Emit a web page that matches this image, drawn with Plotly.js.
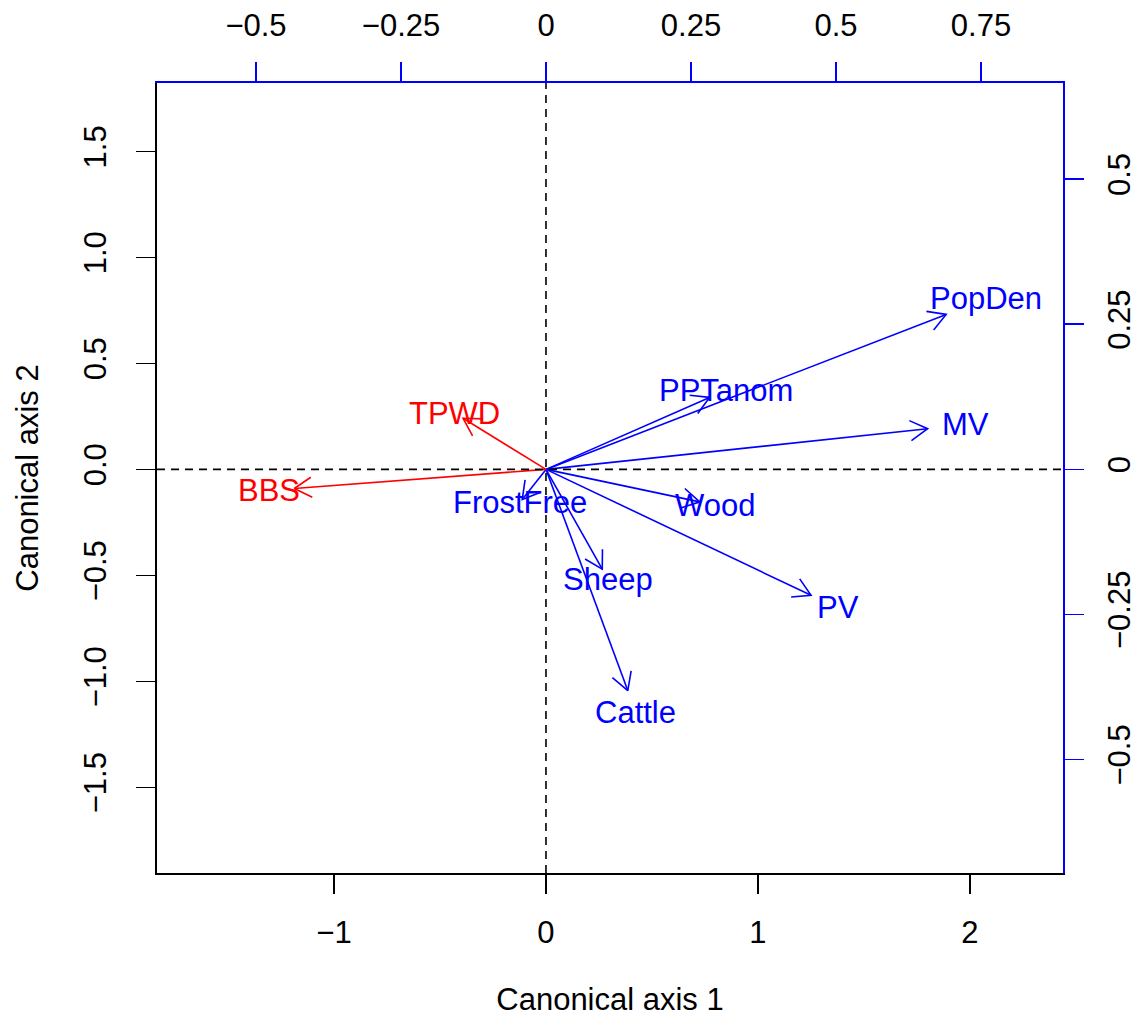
<!DOCTYPE html>
<html>
<head>
<meta charset="utf-8">
<script src="https://cdn.plot.ly/plotly-3.0.1.min.js"></script>
<style>
  html, body { margin: 0; padding: 0; background: #ffffff; }
  #plot { width: 1143px; height: 1026px; }
</style>
</head>
<body>
<div id="plot"></div>
<script>
// Environmental (X) variables: structure correlations on canonical axes 1 and 2
const xVars  = ['PopDen', 'MV', 'PPTanom', 'Wood', 'PV', 'Sheep', 'Cattle', 'FrostFree'];
const xAxis1 = [0.690, 0.658, 0.282, 0.265, 0.457, 0.097, 0.141, -0.041];
const xAxis2 = [0.267, 0.070, 0.124, -0.056, -0.217, -0.172, -0.381, -0.052];

// Response (Y) variables
const yVars  = ['BBS', 'TPWD'];
const yAxis1 = [-0.434, -0.143];
const yAxis2 = [-0.033, 0.088];

// Axis ranges (score scale on bottom/left, loading scale on top/right)
const scoreRangeX = [-1.835, 2.439];
const scoreRangeY = [-1.904, 1.823];
const loadRangeX  = [-0.6707, 0.8914];
const loadRangeY  = [-0.6954, 0.6657];

const scoreTicksX = [-1, 0, 1, 2];
const scoreTicksY = [-1.5, -1.0, -0.5, 0.0, 0.5, 1.0, 1.5];
const loadTicksX  = [-0.5, -0.25, 0, 0.25, 0.5, 0.75];
const loadTicksY  = [-0.5, -0.25, 0, 0.25, 0.5];

const BLUE = '#0000ff';
const RED  = '#ff0000';
const FONT = 'Liberation Sans, Arial, Helvetica, sans-serif';
const FS = 31;

const W = 1143, H = 1026;
const M = { l: 157, r: 80, t: 83, b: 153 };
const plotW = W - M.l - M.r;
const plotH = H - M.t - M.b;
const pxPerX = plotW / (loadRangeX[1] - loadRangeX[0]);
const pxPerY = plotH / (loadRangeY[1] - loadRangeY[0]);

const fmtMinus = v => (v < 0 ? '\u2212' : '') + Math.abs(v);
const fmtFixed = v => (v < 0 ? '\u2212' : '') + Math.abs(v).toFixed(1);

// Open V-shaped head, 30 degrees, fixed length in pixels
const HEAD = 20, ANG = Math.PI / 6;
function arrowTrace(x, y, color) {
  const th = Math.atan2(y * pxPerY, x * pxPerX);
  const arm = s => [x - HEAD * Math.cos(th + s * ANG) / pxPerX,
                    y - HEAD * Math.sin(th + s * ANG) / pxPerY];
  const a = arm(1), b = arm(-1);
  return {
    type: 'scatter', mode: 'lines', xaxis: 'x2', yaxis: 'y2',
    x: [0, x, null, a[0], x, b[0]],
    y: [0, y, null, a[1], y, b[1]],
    line: { color: color, width: 1.6 },
    hoverinfo: 'skip', showlegend: false
  };
}

const traces = [];
xVars.forEach((v, i) => traces.push(arrowTrace(xAxis1[i], xAxis2[i], BLUE)));
yVars.forEach((v, i) => traces.push(arrowTrace(yAxis1[i], yAxis2[i], RED)));
// anchor trace for the primary axes
traces.push({ type: 'scatter', mode: 'markers', x: [0], y: [0], marker: { opacity: 0 },
  hoverinfo: 'skip', showlegend: false });

// Variable names just beyond the arrow tips
const labelAnn = (names, a1, a2, color) => names.map((n, i) => ({
  xref: 'x2', yref: 'y2', x: a1[i] * 1.1, y: a2[i] * 1.1, text: n,
  showarrow: false, xanchor: 'center', yanchor: 'middle',
  font: { family: FONT, size: FS, color: color }
}));

const tickFont = { family: FONT, size: FS, color: '#000000' };
const baseAxis = {
  showgrid: false, zeroline: false, showline: true, linewidth: 1.6,
  ticks: 'outside', ticklen: 19, tickwidth: 1.6, tickfont: tickFont,
  tickmode: 'array', fixedrange: true
};

const layout = {
  width: W, height: H,
  margin: M,
  paper_bgcolor: '#ffffff', plot_bgcolor: '#ffffff',
  font: { family: FONT, size: FS, color: '#000000' },
  showlegend: false,
  xaxis: Object.assign({}, baseAxis, {
    range: scoreRangeX, tickvals: scoreTicksX, ticktext: scoreTicksX.map(fmtMinus),
    linecolor: '#000000', tickcolor: '#000000', side: 'bottom',
    ticklabelstandoff: 12,
    title: { text: 'Canonical axis 1', font: { family: FONT, size: FS }, standoff: 39 }
  }),
  yaxis: Object.assign({}, baseAxis, {
    range: scoreRangeY, tickvals: scoreTicksY, ticktext: scoreTicksY.map(fmtFixed),
    linecolor: '#000000', tickcolor: '#000000', side: 'left', tickangle: -90,
    ticklabelstandoff: 18,
    title: { text: 'Canonical axis 2', font: { family: FONT, size: FS }, standoff: 30 }
  }),
  xaxis2: Object.assign({}, baseAxis, {
    overlaying: 'x', side: 'top', anchor: 'y2',
    range: loadRangeX, tickvals: loadTicksX, ticktext: loadTicksX.map(fmtMinus),
    linecolor: BLUE, tickcolor: BLUE, ticklabelstandoff: 14
  }),
  yaxis2: Object.assign({}, baseAxis, {
    overlaying: 'y', side: 'right', anchor: 'x2',
    range: loadRangeY, tickvals: loadTicksY, ticktext: loadTicksY.map(fmtMinus),
    linecolor: BLUE, tickcolor: BLUE, tickangle: -90, ticklabelstandoff: 9
  }),
  annotations: labelAnn(xVars, xAxis1, xAxis2, BLUE).concat(labelAnn(yVars, yAxis1, yAxis2, RED)),
  shapes: [
    { type: 'line', xref: 'x', yref: 'paper', x0: 0, x1: 0, y0: 0, y1: 1,
      line: { color: '#000000', width: 1.6, dash: '8px,6px' } },
    { type: 'line', xref: 'paper', yref: 'y', x0: 0, x1: 1, y0: 0, y1: 0,
      line: { color: '#000000', width: 1.6, dash: '8px,6px' } }
  ]
};

Plotly.newPlot('plot', traces, layout, { staticPlot: true, displayModeBar: false });
</script>
</body>
</html>
